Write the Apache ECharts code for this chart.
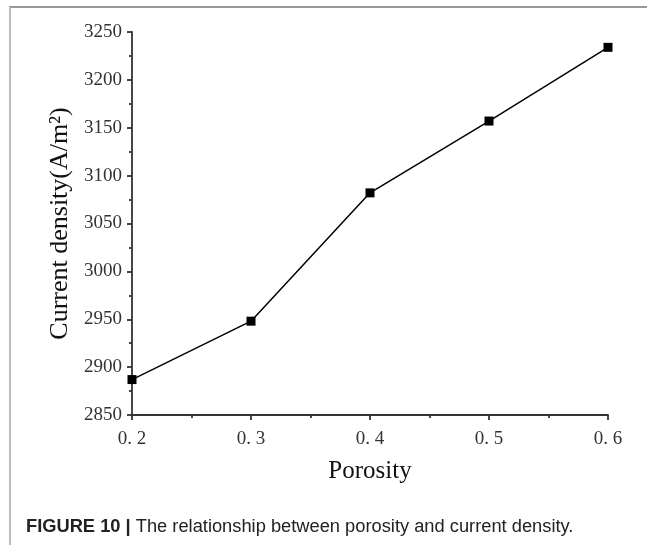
<!DOCTYPE html>
<html>
<head>
<meta charset="utf-8">
<script src="https://cdn.jsdelivr.net/npm/echarts@6/dist/echarts.min.js"></script>
<style>html,body{margin:0;padding:0;background:#fff;}#c{width:647px;height:545px;}</style>
</head>
<body>
<div id="c"></div>
<script>
const porosity = [0.2, 0.3, 0.4, 0.5, 0.6];
const currentDensity = [2887, 2948, 3082, 3157, 3234];
const xAxisName = 'Porosity';
const yAxisName = 'Current density(A/m²)';
const captionBold = 'FIGURE 10 |';
const captionText = ' The relationship between porosity and current density.';

const chart = echarts.init(document.getElementById('c'), null, {renderer: 'canvas'});
const axisColor = '#333';
const serif = 'Liberation Serif';
chart.setOption({
  animation: false,
  backgroundColor: '#fff',
  grid: {left: 132, right: 39, top: 32, bottom: 130, containLabel: false},
  xAxis: {
    type: 'value', min: 0.2, max: 0.6, interval: 0.1,
    name: xAxisName, nameLocation: 'middle', nameGap: 44,
    nameTextStyle: {fontFamily: serif, fontSize: 25, color: '#111'},
    axisLine: {show: true, lineStyle: {color: axisColor, width: 1.8}},
    axisTick: {show: true, length: 5, lineStyle: {color: axisColor, width: 1.8}},
    minorTick: {show: true, splitNumber: 2, length: 3, lineStyle: {color: axisColor, width: 1.8}},
    splitLine: {show: false},
    axisLabel: {fontFamily: serif, fontSize: 19, color: '#333', margin: 15,
      formatter: v => v.toFixed(1).replace('.', '. ')}
  },
  yAxis: {
    type: 'value', min: 2850, max: 3250, interval: 50,
    name: yAxisName, nameLocation: 'middle', nameGap: 43,
    nameTextStyle: {fontFamily: serif, fontSize: 26, color: '#111'},
    axisLine: {show: true, lineStyle: {color: axisColor, width: 1.8}},
    axisTick: {show: true, length: 5, lineStyle: {color: axisColor, width: 1.8}},
    minorTick: {show: true, splitNumber: 2, length: 3, lineStyle: {color: axisColor, width: 1.8}},
    splitLine: {show: false},
    axisLabel: {fontFamily: serif, fontSize: 19, color: '#333', margin: 10,
      formatter: v => String(v)}
  },
  series: [{
    type: 'line',
    data: porosity.map((x, i) => [x, currentDensity[i]]),
    symbol: 'rect', symbolSize: 9,
    showAllSymbol: true,
    clip: true,
    lineStyle: {color: '#000', width: 1.5},
    itemStyle: {color: '#000'}
  }],
  graphic: [
    {type: 'line', shape: {x1: 9, y1: 7, x2: 647, y2: 7}, style: {stroke: '#777', lineWidth: 1.5}},
    {type: 'line', shape: {x1: 10, y1: 7, x2: 10, y2: 545}, style: {stroke: '#bbb', lineWidth: 2}},
    {type: 'text', left: 26, top: 518, style: {
      text: '{b|' + captionBold + '}' + '{n|' + captionText + '}',
      rich: {
        b: {fontFamily: 'Liberation Sans', fontWeight: 'bold', fontSize: 18.3, fill: '#222'},
        n: {fontFamily: 'Liberation Sans', fontSize: 18.3, fill: '#222'}
      }
    }}
  ]
});
</script>
</body>
</html>
